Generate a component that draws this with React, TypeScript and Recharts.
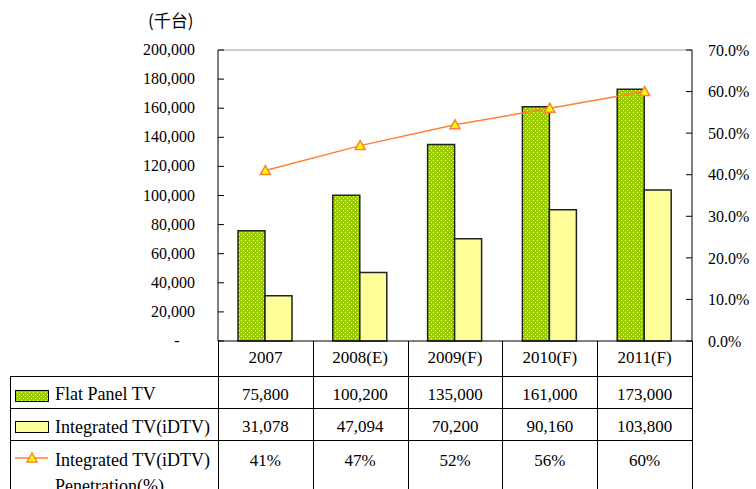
import { ComposedChart, Bar, Line, XAxis, YAxis, ReferenceLine } from 'recharts';

const categories = ['2007', '2008(E)', '2009(F)', '2010(F)', '2011(F)'];
const flatPanel = [75800, 100200, 135000, 161000, 173000];
const integrated = [31078, 47094, 70200, 90160, 103800];
const penetration = [41, 47, 52, 56, 60];
const leftTicks = [0, 20000, 40000, 60000, 80000, 100000, 120000, 140000, 160000, 180000, 200000];
const rightTicks = [0, 10, 20, 30, 40, 50, 60, 70];

const FONT = "'Liberation Serif', 'DejaVu Serif', serif";
const CJK = "'Noto Sans CJK TC', sans-serif";
const GREEN = '#9ACD00';
const YELLOW = '#FFFF99';
const ORANGE = '#FF8033';

// plot geometry (px)
const W = 756;
const H = 489;
const PLOT_L = 218;
const PLOT_R = 692;
const PLOT_T = 50;
const PLOT_B = 341;
const COL_W = (PLOT_R - PLOT_L) / categories.length;

const data = categories.map((name, i) => ({
  name,
  flat: flatPanel[i],
  idtv: integrated[i],
  pen: penetration[i],
}));

const fmt = (v: number) => v.toLocaleString('en-US');

function LeftTick({ x, y, payload }: any) {
  if (payload.value === 0) {
    return (
      <text x={x - 18} y={y} dy={5} textAnchor="middle" fontSize={16} fontFamily={FONT} fill="#000">
        -
      </text>
    );
  }
  return (
    <text x={x} y={y} dy={5} textAnchor="end" fontSize={16} fontFamily={FONT} fill="#000">
      {fmt(payload.value)}
    </text>
  );
}

function Triangle({ cx, cy }: any) {
  if (cx == null || cy == null) return null;
  return (
    <polygon
      points={`${cx},${cy - 5} ${cx - 5},${cy + 4} ${cx + 5},${cy + 4}`}
      fill="#FFFF00"
      stroke={ORANGE}
      strokeWidth={1.5}
    />
  );
}

function Dots({ id }: { id: string }) {
  return (
    <pattern id={id} width="4" height="4" patternUnits="userSpaceOnUse">
      <rect width="4" height="4" fill={GREEN} />
      <rect x="1" y="0" width="1" height="1" fill="#ffffff" />
      <rect x="3" y="2" width="1" height="1" fill="#ffffff" />
    </pattern>
  );
}

const line = (x1: number, y1: number, x2: number, y2: number, key: string) => (
  <line key={key} x1={x1} y1={y1} x2={x2} y2={y2} stroke="#000" strokeWidth={1} />
);

function DataTable() {
  const rows = [
    { values: flatPanel.map(fmt), y: 400 },
    { values: integrated.map(fmt), y: 432 },
    { values: penetration.map((v) => `${v}%`), y: 466 },
  ];
  const els = [];
  for (let i = 0; i <= categories.length; i++) {
    const x = Math.round(PLOT_L + i * COL_W) + 0.5;
    els.push(line(x, PLOT_B, x, H, `v${i}`));
  }
  els.push(line(10.5, 376, 10.5, H, 'vl'));
  [376, 408, 440].forEach((y, i) => els.push(line(10, y + 0.5, PLOT_R, y + 0.5, `h${i}`)));

  return (
    <svg width={W} height={H} style={{ position: 'absolute', left: 0, top: 0, pointerEvents: 'none' }}>
      <defs>
        <Dots id="dots2" />
      </defs>
      {els}
      {rows.map((r, ri) =>
        r.values.map((v, ci) => (
          <text
            key={`${ri}-${ci}`}
            x={PLOT_L + (ci + 0.5) * COL_W}
            y={r.y}
            textAnchor="middle"
            fontSize={17}
            fontFamily={FONT}
          >
            {v}
          </text>
        ))
      )}
      {/* row labels with legend keys */}
      <rect x={15.5} y={390.5} width={33} height={11} fill="url(#dots2)" stroke="#000" />
      <text x={55} y={400} fontSize={18} fontFamily={FONT}>Flat Panel TV</text>
      <rect x={15.5} y={421.5} width={33} height={11} fill={YELLOW} stroke="#000" />
      <text x={55} y={433} fontSize={18} fontFamily={FONT}>Integrated TV(iDTV)</text>
      <line x1={15} y1={458} x2={48} y2={458} stroke={ORANGE} strokeWidth={1.5} />
      <Triangle cx={32} cy={458} />
      <text x={55} y={466} fontSize={18} fontFamily={FONT}>Integrated TV(iDTV)</text>
      <text x={55} y={492} fontSize={18} fontFamily={FONT}>Penetration(%)</text>
    </svg>
  );
}

export default function App() {
  return (
    <div style={{ position: 'fixed', left: 0, top: 0, width: W, height: H, background: '#fff', fontFamily: FONT }}>
      <ComposedChart
        width={W}
        height={H}
        data={data}
        barSize={27}
        barGap={0}
        margin={{ top: PLOT_T, left: PLOT_L - 60, right: W - PLOT_R - 60, bottom: H - PLOT_B - 35 }}
      >
        <defs>
          <Dots id="dots" />
        </defs>
        <XAxis
          dataKey="name"
          height={35}
          axisLine={{ stroke: '#000' }}
          tickLine={false}
          tick={{ fontSize: 17, fontFamily: FONT, fill: '#000' }}
          tickMargin={4}
        />
        <YAxis
          yAxisId="left"
          width={60}
          domain={[0, 200000]}
          ticks={leftTicks}
          interval={0}
          axisLine={{ stroke: '#000' }}
          tickLine={{ stroke: '#000' }}
          tickSize={-6}
          tickMargin={29}
          tick={<LeftTick />}
        />
        <YAxis
          yAxisId="right"
          orientation="right"
          width={60}
          domain={[0, 70]}
          ticks={rightTicks}
          interval={0}
          axisLine={{ stroke: '#000' }}
          tickLine={{ stroke: '#000' }}
          tickSize={-6}
          tickMargin={22}
          tickFormatter={(v: number) => `${v.toFixed(1)}%`}
          tick={{ fontSize: 16, fontFamily: FONT, fill: '#000', textAnchor: 'start' }}
        />
        <ReferenceLine yAxisId="left" y={200000} stroke="#999" />
        <Bar yAxisId="left" dataKey="flat" fill="url(#dots)" stroke="#222" strokeWidth={1.5} isAnimationActive={false} />
        <Bar yAxisId="left" dataKey="idtv" fill={YELLOW} stroke="#222" strokeWidth={1.5} isAnimationActive={false} />
        <Line
          yAxisId="right"
          dataKey="pen"
          stroke={ORANGE}
          strokeWidth={1.5}
          dot={<Triangle />}
          isAnimationActive={false}
        />
      </ComposedChart>
      <DataTable />
      <div style={{ position: 'absolute', left: 148, top: 10, fontSize: 17, fontFamily: CJK, lineHeight: '20px' }}>(千台)</div>
    </div>
  );
}
